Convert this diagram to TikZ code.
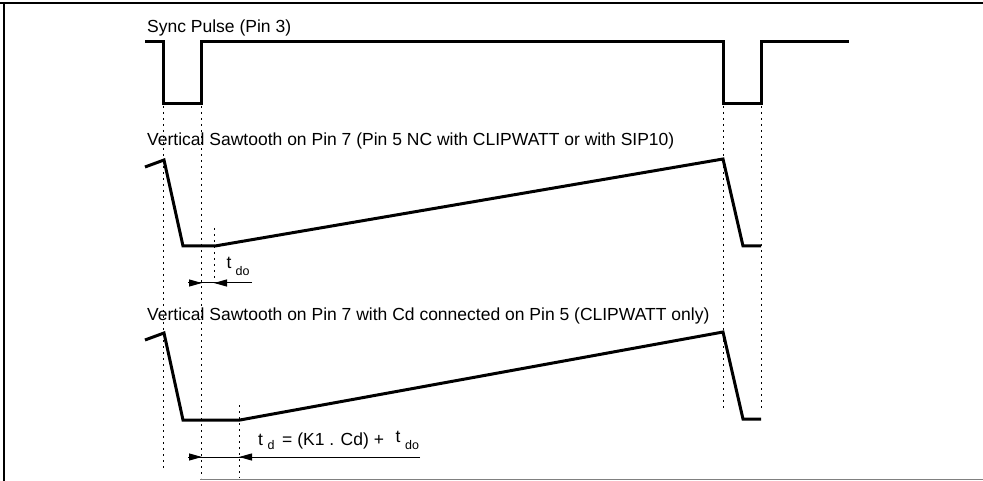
\documentclass[tikz,border=0pt]{standalone}
\usepackage{fontspec}
\setmainfont{Liberation Sans}
\usetikzlibrary{arrows.meta}
\begin{document}
\begin{tikzpicture}[x=1pt,y=-1pt,
  wave/.style={line width=3pt,line join=miter},
  guide/.style={line width=1pt,dash pattern=on 2pt off 4pt},
  title/.style={anchor=base west,inner sep=0pt,font=\fontsize{17.5}{20}\selectfont},
  big/.style={anchor=base west,inner sep=0pt,font=\fontsize{17.5}{20}\selectfont},
  small/.style={anchor=base west,inner sep=0pt,font=\fontsize{12.5}{14}\selectfont},
  tip/.style={-{Triangle[length=13pt,width=7pt]}},
  dim/.style={line width=1pt}]
\useasboundingbox (0,0) rectangle (983,481);
% frame
\draw[line width=2pt] (0,3) -- (983,3);
\draw[line width=2pt] (4,3) -- (4,481);
\draw[line width=1.5pt,gray] (200,479.5) -- (983,479.5);
% titles
\node[title] (t1) at (147,33) {Sync Pulse (Pin 3)};
\node[title] (t2) at (147,146) {Vertical Sawtooth on Pin 7 (Pin 5 NC with CLIPWATT or with SIP10)};
\node[title] (t3) at (147,320) {Vertical Sawtooth on Pin 7 with Cd connected on Pin 5 (CLIPWATT only)};
% sync pulse
\draw[wave] (145,42) -- (163,42) -- (163,104) -- (201,104) -- (201,42) -- (723,42) -- (723,104) -- (761,104) -- (761,42) -- (849,42);
% sawtooth 1
\draw[wave] (145,167) -- (164,160) -- (183,246) -- (215,246) -- (723,159) -- (743,246) -- (761,246);
% sawtooth 2
\draw[wave] (145,340) -- (164,333) -- (183,420) -- (240,420) -- (723,332) -- (743,419) -- (761,419);
% guides
\coordinate (ga1) at (163,106); \coordinate (ga2) at (163,470);
\coordinate (gb1) at (201,106); \coordinate (gb2) at (201,478);
\coordinate (gc1) at (214,228); \coordinate (gc2) at (214,278);
\coordinate (gd1) at (239,405); \coordinate (gd2) at (239,478);
\coordinate (ge1) at (723,106); \coordinate (ge2) at (723,408);
\coordinate (gf1) at (761,106); \coordinate (gf2) at (761,408);
\draw[guide] (ga1) -- (ga2);
\draw[guide] (gb1) -- (gb2);
\draw[guide] (gc1) -- (gc2);
\draw[guide] (gd1) -- (gd2);
\draw[guide] (ge1) -- (ge2);
\draw[guide] (gf1) -- (gf2);
% t_do dimension
\coordinate (a1s) at (188,283); \coordinate (a1e) at (202,283);
\coordinate (a2s) at (252,283); \coordinate (a2e) at (214,283);
\draw[dim] (a1s) -- (a2s);
\draw[dim,tip] (a1s) -- (a1e);
\draw[dim,tip] (a2s) -- (a2e);
\node[big] (tdo1) at (226.5,269) {t};
\node[small] (tdo2) at (235.5,276) {do};
% t_d dimension
\coordinate (b1s) at (188,457); \coordinate (b1e) at (202,457);
\coordinate (b2s) at (420,457); \coordinate (b2e) at (239,457);
\draw[dim] (b1s) -- (b2s);
\draw[dim,tip] (b1s) -- (b1e);
\draw[dim,tip] (b2s) -- (b2e);
\node[big] (td1) at (258,445) {t};
\node[small] (td2) at (267.5,449) {d};
\node[big] (td3) at (282,445) {= (K1 . Cd) +};
\node[big] (td4) at (395.5,442) {t};
\node[small] (td5) at (405,449) {do};
\end{tikzpicture}
\end{document}
